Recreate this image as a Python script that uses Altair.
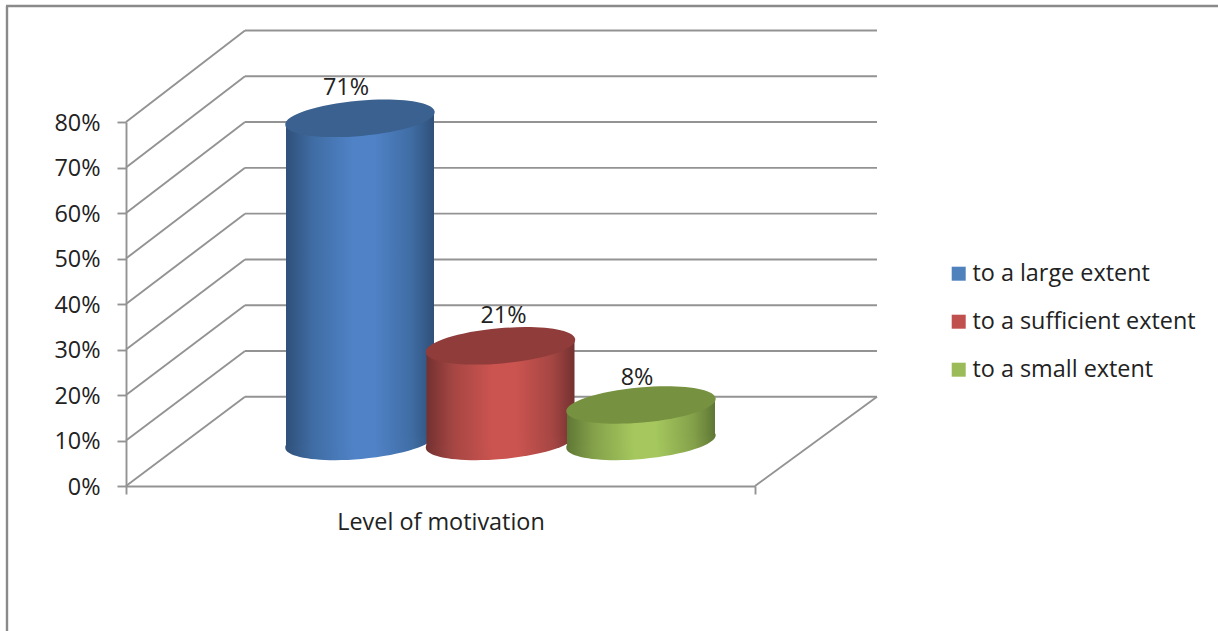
import altair as alt
import pandas as pd

# Chart values
series = ["to a large extent", "to a sufficient extent", "to a small extent"]
percent = [71, 21, 8]
category = "Level of motivation"
tick_levels = [0, 10, 20, 30, 40, 50, 60, 70, 80]

# Styling of each cylinder: legend colour, side shading, lid colour, label nudge
swatch = ["#4f81bd", "#c0504d", "#9bbb59"]
side_dark = ["#2f5079", "#733130", "#5f7735"]
side_mid = ["#3f6ca3", "#a54643", "#84a14a"]
side_light = ["#4f82c6", "#cc5450", "#a5c75e"]
lid = ["#3a618f", "#8f3c3a", "#76913f"]
label_dx = [-14, 3, -4]
label_dy = [-23, -23, -20]

# Geometry of the pseudo-3D box, in data units
FONT = "Open Sans"
FONT_SIZE = 23.4
INK = "#222222"
SLOT_PX = 140.5
PLOT_W, PLOT_H = 629, 364
X_MIN = -234 / SLOT_PX
X_MAX = (PLOT_W - 234) / SLOT_PX
BACK_LEFT = 119 / SLOT_PX
BACK_RIGHT = 122 / SLOT_PX
DEPTH = 19.6
BACK_STRETCH = 1.0065
FLOOR = DEPTH / 2
HALF_W = 74 / SLOT_PX
TILT = 1.3
GRID = "#939393"
LINE_W = 1.9
ELLIPSE = "M-1,0A1,0.235,0,1,1,1,0A1,0.235,0,1,1,-1,0Z"
ELLIPSE_SIZE = 150 ** 2

x_scale = alt.Scale(domain=[X_MIN, X_MAX], nice=False, zero=False)
y_scale = alt.Scale(domain=[0, 80], nice=False, zero=False)

# The axes carry the percent labels, tick marks and the category title
X = alt.X(
    "x:Q",
    scale=x_scale,
    axis=alt.Axis(
        values=[X_MIN, X_MAX],
        labels=False,
        grid=False,
        title=category,
        titleFont=FONT,
        titleFontSize=FONT_SIZE,
        titleFontWeight="normal",
        titleColor=INK,
        titlePadding=17,
        domainColor=GRID,
        domainWidth=LINE_W,
        tickColor=GRID,
        tickWidth=LINE_W,
        tickSize=8,
    ),
)
Y = alt.Y(
    "y:Q",
    scale=y_scale,
    axis=alt.Axis(
        values=tick_levels,
        labelExpr="datum.value + '%'",
        labelFont=FONT,
        labelFontSize=FONT_SIZE,
        labelColor=INK,
        labelPadding=17,
        labelBaseline="middle",
        labelOffset=1,
        grid=False,
        title=None,
        domainColor=GRID,
        domainWidth=LINE_W,
        tickColor=GRID,
        tickWidth=LINE_W,
        tickSize=9,
    ),
)


def segments(rows):
    return pd.DataFrame(rows, columns=["x", "y", "x2", "y2"])


def rules(frame):
    return (
        alt.Chart(frame)
        .mark_rule(color=GRID, strokeWidth=LINE_W)
        .encode(x=X, y=Y, x2="x2:Q", y2="y2:Q")
    )


back = [lvl * BACK_STRETCH + DEPTH for lvl in tick_levels]
wall_side = segments(
    [(X_MIN, lvl, X_MIN + BACK_LEFT, b) for lvl, b in zip(tick_levels, back)]
)
wall_back = segments(
    [(X_MIN + BACK_LEFT, b, X_MAX + BACK_RIGHT, b) for b in back]
)
floor_edge = segments([(X_MAX, 0, X_MAX + BACK_RIGHT, back[0])])


def shading(i):
    return alt.Gradient(
        gradient="linear",
        x1=0,
        x2=1,
        y1=0,
        y2=0,
        stops=[
            alt.GradientStop(color=side_dark[i], offset=0),
            alt.GradientStop(color=side_mid[i], offset=0.18),
            alt.GradientStop(color=side_light[i], offset=0.45),
            alt.GradientStop(color=side_light[i], offset=0.6),
            alt.GradientStop(color=side_mid[i], offset=0.85),
            alt.GradientStop(color=side_dark[i], offset=1),
        ],
    )


def cylinder(i):
    value = percent[i]
    top = FLOOR + value
    body = pd.DataFrame(
        {
            "x": [i - HALF_W, i + HALF_W],
            "y": [top - TILT, top + TILT],
            "y2": [FLOOR - TILT, FLOOR + TILT],
        }
    )
    base = pd.DataFrame({"x": [i], "y": [FLOOR]})
    cap = pd.DataFrame({"x": [i], "y": [top], "label": [f"{value}%"]})

    bottom_mark = (
        alt.Chart(base)
        .mark_point(
            shape=ELLIPSE, size=ELLIPSE_SIZE, filled=True, opacity=1,
            fill=shading(i), strokeWidth=0, angle=355,
        )
        .encode(x=X, y=Y)
    )
    side_mark = (
        alt.Chart(body)
        .mark_area(fill=shading(i), line=False, orient="vertical")
        .encode(x=X, y=Y, y2="y2:Q")
    )
    top_mark = (
        alt.Chart(cap)
        .mark_point(
            shape=ELLIPSE, size=ELLIPSE_SIZE, filled=True, opacity=1,
            fill=lid[i], strokeWidth=0, angle=355,
        )
        .encode(x=X, y=Y)
    )
    text_mark = (
        alt.Chart(cap)
        .mark_text(
            font=FONT, fontSize=FONT_SIZE, color=INK, baseline="alphabetic",
            dx=label_dx[i], dy=label_dy[i],
        )
        .encode(x=X, y=Y, text="label:N")
    )
    return [bottom_mark, side_mark, top_mark, text_mark]


# Invisible marks that feed the legend
legend_layer = (
    alt.Chart(pd.DataFrame({"series": series, "x": [0, 1, 2], "y": percent}))
    .mark_square(opacity=0)
    .encode(
        x=X,
        y=Y,
        color=alt.Color(
            "series:N",
            sort=series,
            scale=alt.Scale(domain=series, range=swatch),
            legend=alt.Legend(
                orient="none",
                legendX=821,
                legendY=140,
                title=None,
                symbolType="square",
                symbolSize=196,
                symbolOpacity=1,
                symbolStrokeWidth=0,
                labelFont=FONT,
                labelFontSize=FONT_SIZE,
                labelColor=INK,
                labelOffset=2,
                labelLimit=400,
                rowPadding=23,
                padding=0,
            ),
        ),
    )
)

# Outer border of the chart area, running off the right and bottom edges
border_top = (
    alt.Chart(pd.DataFrame({"k": [0]}))
    .mark_rule(color="#8a8a8a", strokeWidth=2.4)
    .encode(x=alt.value(-120), x2=alt.value(1092), y=alt.value(-116))
)
border_left = (
    alt.Chart(pd.DataFrame({"k": [0]}))
    .mark_rule(color="#8a8a8a", strokeWidth=2.4)
    .encode(x=alt.value(-119), y=alt.value(-116), y2=alt.value(509))
)

layers = [
    border_top,
    border_left,
    rules(wall_back),
    rules(wall_side),
    rules(floor_edge),
    legend_layer,
]
for idx in range(len(series)):
    layers.extend(cylinder(idx))

chart = (
    alt.layer(*layers)
    .resolve_scale(x="shared", y="shared")
    .properties(
        width=PLOT_W,
        height=PLOT_H,
        autosize=alt.AutoSizeParams(type="none"),
        padding={"left": 126, "top": 122, "right": 463, "bottom": 145},
        background="#ffffff",
    )
    .configure_view(stroke=None)
)

chart.save("out.html", embed_options={"renderer": "svg", "actions": False})
